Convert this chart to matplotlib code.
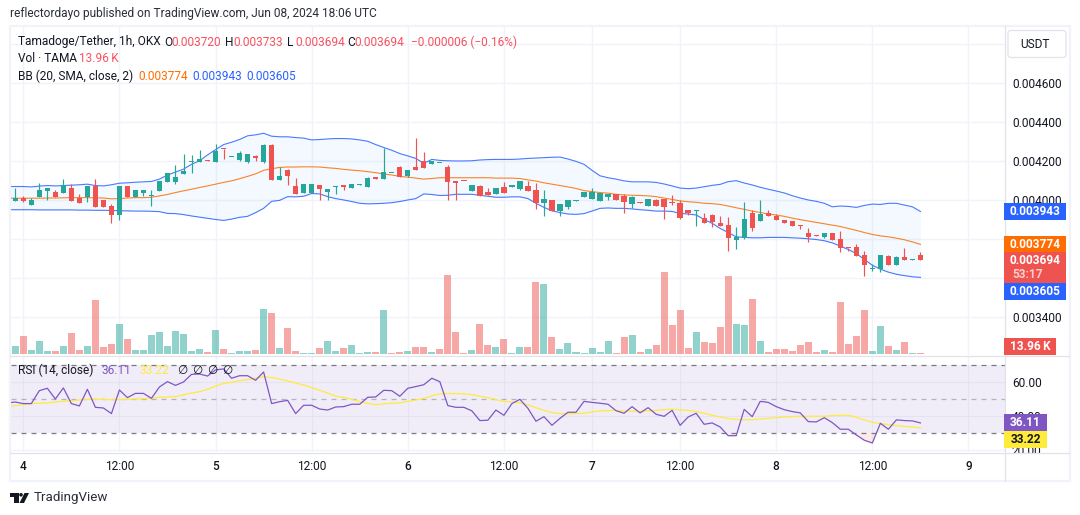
import numpy as np
import matplotlib
matplotlib.use('Agg')
import matplotlib.pyplot as plt
from matplotlib.patches import Rectangle, FancyBboxPatch, Circle, Polygon

plt.rcParams['font.family'] = ['Roboto', 'DejaVu Sans']

W, H = 1080, 515

# OHLC, TAMA/USDT 1h, in millionths of USDT
opens = [3997,4012,3976,4018,4049,4043,4038,4064,4012,4018,
         4074,4002,3971,3925,4074,4018,4038,4021,4049,4095,
         4095,4136,4198,4198,4209,4198,4265,4221,4209,4198,
         4229,4198,4286,4105,4157,4074,4038,4038,4080,4043,
         4071,4080,4064,4080,4069,4121,4111,4138,4172,4126,
         4172,4203,4188,4190,4172,4100,4100,4049,4074,4043,
         4033,4069,4069,4059,4074,4054,3987,4002,3945,3966,
         3999,4018,4007,3997,4018,4033,4023,3982,3992,3971,
         4002,4007,3990,3986,3950,3947,3909,3925,3883,3873,
         3796,3806,3935,3894,3935,3919,3899,3894,3873,3832,
         3822,3811,3832,3801,3758,3760,3719,3647,3647,3714,
         3667,3709,3695,3720]
highs = [4064,4023,4011,4090,4064,4054,4111,4085,4033,4074,
         4111,4002,3982,4074,4074,4054,4054,4054,4100,4140,
         4183,4240,4234,4260,4209,4291,4265,4224,4255,4240,
         4234,4291,4291,4172,4162,4116,4085,4085,4080,4059,
         4074,4080,4085,4083,4121,4121,4271,4142,4178,4157,
         4322,4250,4203,4193,4183,4100,4100,4080,4080,4064,
         4064,4095,4080,4100,4100,4090,4054,4002,3982,4002,
         4002,4043,4064,4038,4033,4033,4033,4023,3992,4007,
         4007,4007,4027,4002,3950,3950,3935,3930,3919,3914,
         3863,3991,3950,4002,3950,3930,3899,3894,3873,3858,
         3822,3832,3832,3842,3758,3775,3739,3673,3719,3719,
         3714,3755,3698,3733]
lows = [3997,3994,3976,4018,4002,4018,4038,3997,3987,3992,
        3966,3966,3884,3899,4018,4018,4023,3971,4049,4095,
        4085,4136,4142,4198,4203,4198,4214,4221,4203,4193,
        4203,4193,4105,4105,4080,4033,4038,4038,4002,4002,
        4033,4054,4064,4080,4069,4111,4111,4138,4121,4121,
        4157,4167,4188,4190,4002,4002,4097,4049,4023,4028,
        4033,4038,4069,4054,4049,3956,3920,3945,3920,3956,
        3999,4018,4007,3997,4002,4002,3935,3961,3988,3971,
        3971,3904,3976,3904,3925,3868,3883,3863,3868,3739,
        3750,3801,3842,3894,3919,3899,3883,3868,3853,3786,
        3818,3806,3796,3734,3739,3714,3611,3637,3632,3667,
        3667,3693,3695,3694]
closes = [4014,3997,4002,4054,4064,4018,4080,3997,3987,4074,
          3966,3966,3925,4074,4018,4054,4054,4023,4100,4140,
          4121,4152,4202,4214,4203,4255,4262,4224,4245,4240,
          4219,4286,4105,4126,4126,4033,4085,4085,4059,4059,
          4074,4069,4085,4083,4116,4111,4147,4142,4121,4157,
          4157,4167,4203,4193,4095,4090,4097,4080,4023,4028,
          4064,4038,4080,4100,4049,3987,4007,3945,3982,4002,
          4002,4043,4043,4038,4033,4002,3992,4018,3988,4007,
          3971,3966,3986,3909,3935,3950,3883,3889,3868,3806,
          3811,3904,3858,3930,3919,3899,3883,3868,3870,3811,
          3818,3832,3796,3755,3755,3714,3667,3650,3719,3667,
          3709,3693,3698,3694]

# volume in thousands of TAMA
volumes = [112,251,56,181,42,42,112,293,56,112,
           753,98,140,419,209,56,56,265,307,112,
           321,279,42,70,28,335,70,14,42,42,
           56,628,572,84,363,42,14,14,84,181,
           42,84,126,14,28,28,614,14,28,42,
           98,98,28,70,1102,307,14,56,419,126,
           98,209,14,98,98,1004,977,237,70,153,
           28,14,84,28,181,14,237,265,28,70,
           126,1144,405,614,84,307,167,153,377,1088,
           419,405,767,181,28,70,70,42,126,167,
           28,56,28,725,140,251,614,42,391,112,
           56,167,14,13.96]

# Bollinger bands, millionths of USDT, first point is one bar left of the first candle
bb_upper = [4071,4071,4071,4069,4073,4076,4074,4076,4078,4080,
            4083,4076,4074,4080,4088,4090,4093,4095,4097,4109,
            4130,4145,4160,4185,4203,4233,4260,4286,4298,4312,
            4331,4336,4344,4329,4326,4326,4322,4319,4310,4312,
            4315,4317,4317,4315,4310,4303,4286,4271,4257,4240,
            4228,4215,4190,4210,4205,4203,4202,4202,4203,4207,
            4209,4210,4210,4210,4212,4215,4217,4219,4221,4222,
            4212,4200,4185,4154,4126,4116,4109,4100,4095,4095,
            4095,4092,4084,4074,4063,4060,4063,4070,4077,4082,
            4096,4101,4089,4079,4067,4057,4048,4038,4024,4012,
            4002,3995,3985,3967,3971,3969,3964,3974,3981,3979,
            3985,3985,3976,3967,3943]
bb_mid = [4011,4011,4011,4011,4011,4012,4012,4013,4014,4014,
          4014,4013,4012,4008,4009,4012,4014,4014,4016,4023,
          4030,4040,4049,4057,4066,4074,4083,4092,4100,4111,
          4123,4136,4154,4162,4169,4171,4171,4172,4172,4171,
          4167,4164,4159,4155,4152,4147,4142,4135,4130,4123,
          4119,4114,4109,4112,4116,4116,4116,4116,4116,4116,
          4116,4114,4114,4114,4112,4105,4099,4090,4083,4076,
          4069,4061,4050,4045,4040,4037,4031,4028,4026,4025,
          4023,4019,4012,4005,3997,3993,3990,3985,3983,3979,
          3971,3962,3954,3945,3938,3930,3925,3918,3909,3901,
          3894,3887,3880,3873,3866,3856,3846,3835,3825,3818,
          3813,3806,3798,3787,3774]
bb_lower = [3952,3952,3952,3952,3951,3951,3951,3951,3951,3950,
            3950,3949,3949,3948,3947,3946,3945,3945,3944,3942,
            3933,3932,3927,3920,3914,3908,3902,3897,3904,3913,
            3918,3937,3959,3995,4000,4019,4018,4021,4035,4033,
            4019,4009,4002,3994,3985,3982,3983,3985,3988,3994,
            4002,4009,4033,4030,4025,4026,4031,4031,4031,4026,
            4021,4016,4016,4018,4018,4009,3985,3964,3947,3937,
            3930,3928,3932,3945,3959,3961,3959,3959,3956,3952,
            3949,3945,3945,3943,3933,3930,3925,3902,3882,3856,
            3835,3813,3810,3808,3808,3810,3810,3810,3808,3806,
            3803,3799,3793,3782,3765,3748,3727,3697,3667,3647,
            3632,3621,3614,3608,3605]

# RSI and its moving average, same starting bar as the bands
rsi = [47.9,48.4,47.5,47.5,55.1,56.5,50.2,56.7,47.5,46.1,
       55.9,45.3,44.9,41.6,55.5,51.0,53.5,53.5,50.6,57.3,
       60.4,58.2,60.2,64.7,64.9,63.7,67.3,67.9,62.4,63.9,
       63.9,61.2,66.1,47.5,48.6,49.4,41.6,46.5,46.5,44.3,
       43.7,45.5,45.7,47.1,47.1,51.2,51.4,55.3,55.1,51.8,
       56.5,57.5,58.6,62.4,60.4,46.3,45.3,45.3,43.2,37.5,
       37.7,43.7,40.6,47.5,50.0,44.7,37.1,39.8,34.7,38.8,
       42.4,42.4,48.8,48.2,47.7,47.1,43.3,41.8,45.7,42.0,
       45.1,41.2,40.0,43.5,34.7,39.6,41.8,35.3,36.1,33.7,
       28.6,28.6,44.1,39.8,48.8,48.2,45.7,43.9,42.8,42.0,
       36.9,36.7,39.2,36.3,32.4,32.4,29.0,25.9,24.3,35.9,
       32.4,37.9,37.5,37.3,36.11]
rsi_ma = [45.9,46.3,46.9,47.5,47.7,47.9,48.4,48.8,49.2,49.6,
          50.0,50.0,50.0,49.8,49.8,50.0,50.2,50.4,50.6,51.2,
          51.4,51.6,52.6,53.7,54.5,55.9,57.8,59.4,60.0,61.0,
          61.6,62.4,63.3,62.8,62.0,60.8,59.6,58.4,56.9,55.3,
          53.7,51.8,51.2,50.0,48.6,47.7,46.9,47.3,47.7,47.9,
          48.8,49.6,50.6,52.0,53.2,53.4,53.4,53.2,52.8,51.8,
          51.0,49.8,48.8,48.4,48.0,46.7,45.1,43.5,42.2,41.6,
          41.4,41.6,41.8,42.6,43.2,43.3,43.5,43.2,43.0,42.8,
          43.2,43.5,43.9,44.3,43.7,43.5,42.8,41.8,40.6,39.6,
          38.6,38.2,38.0,38.0,38.4,38.8,39.2,39.6,39.8,40.0,
          40.0,40.0,40.0,40.4,40.6,40.6,39.4,37.9,36.5,35.7,
          35.1,34.5,34.1,33.7,33.22]

price_ticks = [3400, 3600, 3800, 4000, 4200, 4400, 4600, 4800]
price_labels = {3400: '0.003400', 4000: '0.004000', 4200: '0.004200', 4400: '0.004400', 4600: '0.004600'}
time_ticks = [1, 13, 25, 37, 49, 61, 72, 83, 95, 107, 119]
time_labels = ['4', '12:00', '5', '12:00', '6', '12:00', '7', '12:00', '8', '12:00', '9']
rsi_ticks = [20, 40, 60]

UP = '#26A69A'
DOWN = '#EF5350'
TEXT = '#131722'
RED_TXT = '#F7525F'
ORANGE = '#FF6D00'
BLUE = '#2962FF'
PURPLE = '#7E57C2'
YELLOW = '#FFEB3B'
GRID = '#F0F3FA'
EDGE = '#E0E3EB'

to_price = 1e-6
O = np.array(opens) * to_price
Hi = np.array(highs) * to_price
Lo = np.array(lows) * to_price
C = np.array(closes) * to_price
vol = np.array(volumes, dtype=float)
up = C >= O
bars = np.arange(len(C))
ind_bars = np.arange(-1, len(C))


def add_axes_px(fig, left, top, right, bottom, **kw):
    return fig.add_axes([left / W, 1 - bottom / H, (right - left) / W, (bottom - top) / H], **kw)


fig = plt.figure(figsize=(W / 100, H / 100), dpi=100, facecolor='white')

LEFT, RIGHT = 11, 1004.5
xlim = ((LEFT - 15.3) / 8.01, (RIGHT - 15.3) / 8.01)
FS = 8.6

# main pane: grid, bands, candles
ax = add_axes_px(fig, LEFT, 27, RIGHT, 355, zorder=1)
ax.set_xlim(*xlim)
ax.set_ylim(0.003207, 0.004889)
ax.set_xticks(time_ticks)
ax.set_yticks(np.array(price_ticks) * to_price)
ax.set_yticklabels([price_labels.get(t, '') for t in price_ticks])
ax.yaxis.tick_right()
ax.tick_params(axis='x', length=0, labelbottom=False)
ax.tick_params(axis='y', length=0, labelsize=FS, labelcolor=TEXT, pad=5.4)
ax.grid(True, color=GRID, lw=1.0)
ax.set_axisbelow(True)
for s in ax.spines.values():
    s.set_visible(False)

upper = np.array(bb_upper) * to_price
mid = np.array(bb_mid) * to_price
lower = np.array(bb_lower) * to_price
ax.fill_between(ind_bars, lower, upper, color='#2196F3', alpha=0.05, lw=0)
ax.plot(ind_bars, upper, color=BLUE, lw=0.8, alpha=0.85)
ax.plot(ind_bars, lower, color=BLUE, lw=0.8, alpha=0.85)
ax.plot(ind_bars, mid, color=ORANGE, lw=0.8, alpha=0.85)

colors = [UP if u else DOWN for u in up]
ax.vlines(bars, Lo, Hi, colors=colors, lw=0.85, zorder=3)
body = np.maximum(np.abs(C - O), 5e-6)
ax.bar(bars, body, bottom=np.minimum(O, C), width=0.66, color=colors, lw=0, zorder=4)

# volume shares the main pane on its own scale
ax_vol = add_axes_px(fig, LEFT, 27, RIGHT, 355, zorder=2)
ax_vol.patch.set_alpha(0)
ax_vol.set_xlim(*xlim)
ax_vol.set_ylim(-14, 4565)
ax_vol.axis('off')
vol_colors = [UP if u else DOWN for u in up]
for i in (47, 53):
    vol_colors[i] = DOWN
ax_vol.bar(bars, vol, width=0.875, color=vol_colors, alpha=0.5, lw=0)

# RSI pane
ax_rsi = add_axes_px(fig, LEFT, 356, RIGHT, 452, zorder=1)
ax_rsi.set_xlim(*xlim)
ax_rsi.set_ylim(19.0, 75.5)
ax_rsi.set_xticks(time_ticks)
ax_rsi.set_yticks(rsi_ticks)
ax_rsi.set_yticklabels(['%.2f' % t for t in rsi_ticks])
ax_rsi.yaxis.tick_right()
ax_rsi.tick_params(axis='x', length=0, labelbottom=False)
ax_rsi.tick_params(axis='y', length=0, labelsize=FS, labelcolor=TEXT, pad=5.4)
ax_rsi.grid(True, color=GRID, lw=1.0)
ax_rsi.set_axisbelow(True)
for s in ax_rsi.spines.values():
    s.set_visible(False)
ax_rsi.axhspan(30, 70, color=PURPLE, alpha=0.1, lw=0)
ax_rsi.axhline(70, color='#787B86', lw=0.9, ls=(0, (4, 4)))
ax_rsi.axhline(50, color='#787B86', lw=0.9, ls=(0, (4, 4)), alpha=0.5)
ax_rsi.axhline(30, color='#787B86', lw=0.9, ls=(0, (4, 4)))
rsi_arr = np.array(rsi)
ax_rsi.fill_between(ind_bars, rsi_arr, 30, where=rsi_arr < 30, interpolate=True, color=DOWN, alpha=0.12, lw=0)
ax_rsi.plot(ind_bars, rsi_ma, color=YELLOW, lw=0.9)
ax_rsi.plot(ind_bars, rsi_arr, color=PURPLE, lw=0.9)

# frame, separators, price badges and legends, in pixel coordinates
top = add_axes_px(fig, 0, 0, W, H, zorder=5)
top.patch.set_alpha(0)
top.set_xlim(0, W)
top.set_ylim(H, 0)
top.axis('off')

top.add_patch(Rectangle((1005, 452.5), 64, 28, fc='white', ec='none', zorder=1))
top.add_patch(Rectangle((9.5, 26), 1060, 455, fc='none', ec=GRID, lw=1.6, zorder=1))
top.plot([1004.5, 1004.5], [26, 481], color=EDGE, lw=0.9, zorder=2)
top.plot([10, 1069], [452.5, 452.5], color=EDGE, lw=0.9, zorder=2)
top.plot([10, 1069], [355.5, 355.5], color=EDGE, lw=0.9, zorder=2)
top.add_patch(FancyBboxPatch((1008, 30.5), 58, 27, boxstyle='round,pad=0,rounding_size=3',
                             fc='white', ec=EDGE, lw=0.9, zorder=2))
top.text(1035, 45, 'USDT', ha='center', va='center', fontsize=FS, color=TEXT)


def label(x, y, s, color=TEXT, **kw):
    kw.setdefault('fontsize', FS)
    top.text(x, y, s, color=color, ha='left', va='center', zorder=6, **kw)


label(10, 14, 'reflectordayo published on TradingView.com, Jun 08, 2024 18:06 UTC', color='#2A2E39')
label(18, 42, 'Tamadoge/Tether, 1h, OKX')
for x, s in ((164, 'O'), (225, 'H'), (287, 'L'), (347, 'C')):
    label(x, 42, s)
for x, s in ((171, '0.003720'), (233, '0.003733'), (295, '0.003694'), (354, '0.003694'), (411, '\u22120.000006 (\u22120.16%)')):
    label(x, 42, s, color=RED_TXT)
label(18, 59, 'Vol \u00b7 TAMA')
label(79, 59, '13.96\u2009K', color=RED_TXT)
label(18, 76, 'BB (20, SMA, close, 2)')
label(138, 76, '0.003774', color=ORANGE)
label(192, 76, '0.003943', color=BLUE)
label(246, 76, '0.003605', color=BLUE)
label(18, 370, 'RSI (14, close)')
label(102, 370, '36.11', color=PURPLE)
label(139, 370, '33.22', color=YELLOW)
for x in (177, 192, 207, 222):
    label(x, 370, '\u2205')


def badge(x0, x1, yc, s, fc, tc='white', h=17):
    top.add_patch(Rectangle((x0, yc - h / 2), x1 - x0, h, fc=fc, ec='none', zorder=3))
    top.text((x0 + x1) / 2, yc, s, color=tc, ha='center', va='center', fontsize=FS, fontweight='bold', zorder=4)


def price_px(p):
    return H - ax.transData.transform((0, p))[1]


def rsi_px(v):
    return H - ax_rsi.transData.transform((0, v))[1]


badge(1004, 1066, price_px(upper[-1]), '0.003943', BLUE)
badge(1004, 1066, price_px(mid[-1]), '0.003774', ORANGE)
badge(1004, 1066, price_px(lower[-1]) + 14, '0.003605', BLUE)
last_y = price_px(C[-1])
top.add_patch(Rectangle((1004, last_y - 8.5), 62, 31, fc=DOWN, ec='none', zorder=3))
top.text(1035, last_y, '0.003694', color='white', ha='center', va='center', fontsize=FS, fontweight='bold', zorder=4)
top.text(1012, last_y + 14, '53:17', color='#FBCFCD', ha='left', va='center', fontsize=FS, fontweight='bold', zorder=4)
badge(1004, 1056, 346, '13.96\u2009K', DOWN)
badge(1004, 1047, rsi_px(rsi_arr[-1]), '36.11', PURPLE)
badge(1004, 1047, rsi_px(rsi_ma[-1]) + 12, '33.22', YELLOW, tc=TEXT)

# TradingView mark and wordmark
top.add_patch(Rectangle((10, 493), 8.5, 3.5, fc=TEXT, ec='none'))
top.add_patch(Rectangle((13.5, 493), 5, 10, fc=TEXT, ec='none'))
top.add_patch(Circle((21, 494.8), 1.8, fc=TEXT, ec='none'))
top.add_patch(Polygon([[19.5, 503], [24.5, 493], [29, 493], [24, 503]], fc=TEXT, ec='none'))
label(34, 497, 'TradingView', color='#2A2E39', fontsize=9.6)

# time scale sits above the pixel layer so its labels stay readable
ax_time = add_axes_px(fig, LEFT, 453, RIGHT, 480, zorder=6)
ax_time.set_xlim(*xlim)
ax_time.set_ylim(0, 1)
ax_time.set_yticks([])
ax_time.patch.set_alpha(0)
ax_time.set_xticks(time_ticks)
ax_time.set_xticklabels(time_labels)
ax_time.tick_params(axis='x', length=0, labelsize=FS, pad=-14.3, colors=TEXT)
for lbl, txt in zip(ax_time.get_xticklabels(), time_labels):
    if ':' not in txt:
        lbl.set_fontweight('medium')
for s in ax_time.spines.values():
    s.set_visible(False)

fig.savefig('out.png', dpi=100)
